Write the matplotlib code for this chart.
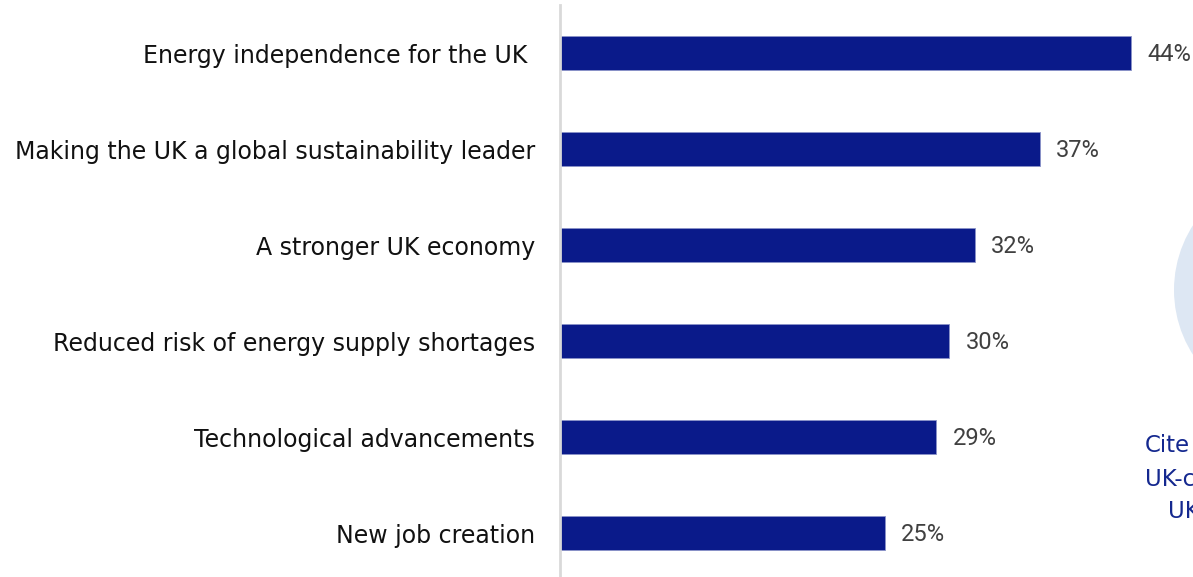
import matplotlib
matplotlib.use("Agg")
import matplotlib.pyplot as plt
from matplotlib.patches import Circle

# Survey results: perceived benefits
categories = [
    "Energy independence for the UK ",
    "Making the UK a global sustainability leader",
    "A stronger UK economy",
    "Reduced risk of energy supply shortages",
    "Technological advancements",
    "New job creation",
]
values = [44, 37, 32, 30, 29, 25]
value_labels = ["44%", "37%", "32%", "30%", "29%", "25%"]
side_text = ["Cite", "UK-c", "UK"]

BAR_COLOR = "#0a1a8a"
LABEL_COLOR = "#111111"
VALUE_COLOR = "#404040"
SIDE_COLOR = "#14288f"
CIRCLE_COLOR = "#dde7f3"

W, H = 1193, 577
fig = plt.figure(figsize=(W / 100, H / 100), dpi=100)
fig.patch.set_facecolor("white")

# background layer in pixel coordinates for the side decoration
bg = fig.add_axes([0, 0, 1, 1], zorder=0)
bg.set_xlim(0, W)
bg.set_ylim(H, 0)
bg.axis("off")
bg.add_patch(Circle((1294, 290), 120, facecolor=CIRCLE_COLOR, edgecolor="none"))
for i, t in enumerate(side_text):
    bg.text(1145 if i < 2 else 1168, 446 + i * 33, t, color=SIDE_COLOR,
            fontsize=16.5, family="DejaVu Sans", ha="left", va="center")

# main bar chart
left_px = 560
px_per_unit = 12.98
ax = fig.add_axes([left_px / W, 0, (W - left_px) / W, (H - 5) / H], zorder=1)
ax.patch.set_alpha(0)
ax.set_xlim(0, (W - left_px) / px_per_unit)
ax.set_ylim(5 + 44 / 96, -0.5)

ypos = list(range(len(categories)))
ax.barh(ypos, values, height=0.345, color=BAR_COLOR, edgecolor="#8a93c8", linewidth=0.6)

for y, v, lab in zip(ypos, values, value_labels):
    ax.text(v + 16 / px_per_unit, y + 0.02, lab, color=VALUE_COLOR, fontsize=17,
            family="Roboto", ha="left", va="center")

ax.set_yticks(ypos)
ax.set_yticklabels(categories, fontsize=17, color=LABEL_COLOR, family="DejaVu Sans")
ax.tick_params(axis="y", length=0, pad=18)
ax.set_xticks([])
for s in ["top", "right", "bottom"]:
    ax.spines[s].set_visible(False)
ax.spines["left"].set_color("#d9d9d9")
ax.spines["left"].set_linewidth(2)

fig.savefig("out.png", dpi=100)
